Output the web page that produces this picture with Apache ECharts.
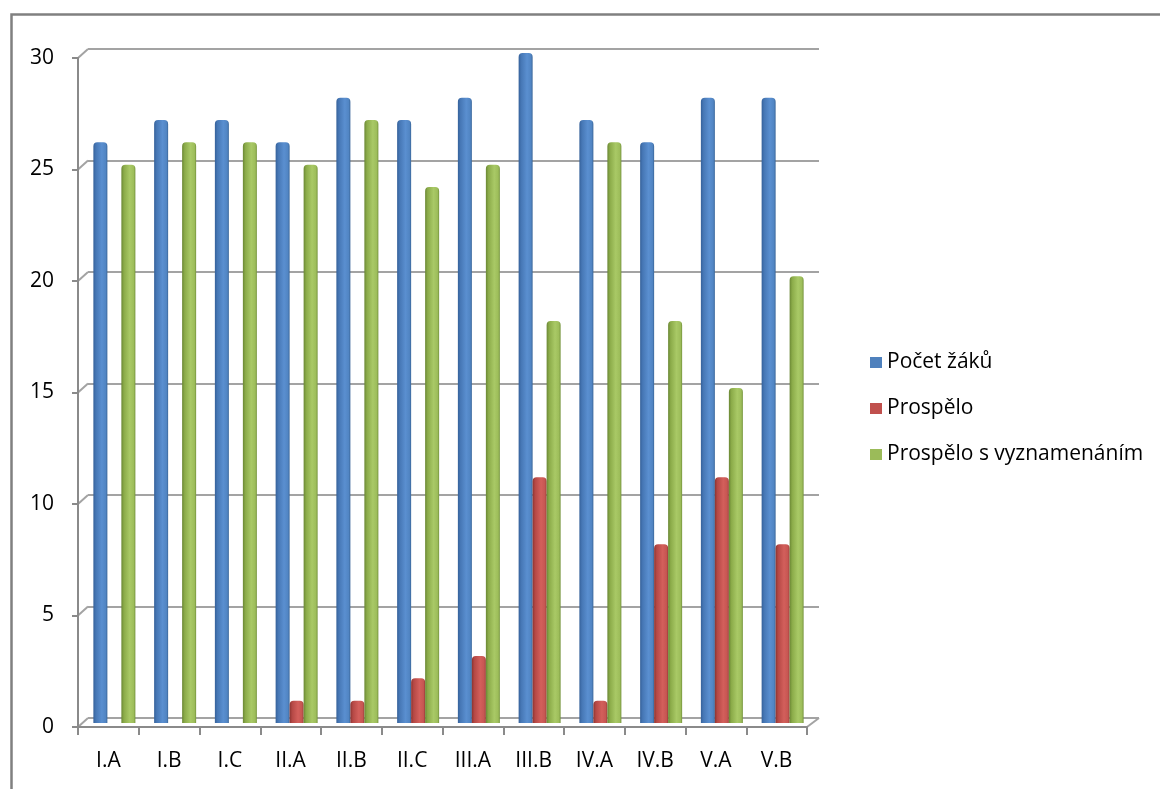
<!DOCTYPE html>
<html><head><meta charset="utf-8">
<script src="https://cdn.jsdelivr.net/npm/echarts@6/dist/echarts.min.js"></script>
<style>html,body{margin:0;padding:0;background:#fff}#c{width:1160px;height:789px}</style>
</head><body><div id="c"></div>
<script>
const categories = ['I.A','I.B','I.C','II.A','II.B','II.C','III.A','III.B','IV.A','IV.B','V.A','V.B'];
const pocetZaku = [26,27,27,26,28,27,28,30,27,26,28,28];
const prospelo = [0,0,0,1,1,2,3,11,1,8,11,8];
const prospeloVyz = [25,26,26,25,27,24,25,18,26,18,15,20];
const yTicks = [0,5,10,15,20,25,30];

const FONT = 'Open Sans';
function cyl(c0,c1,c2,c3,c4){
  return {type:'linear',x:0,y:0,x2:1,y2:0,colorStops:[
    {offset:0,color:c0},{offset:0.18,color:c1},{offset:0.6,color:c2},{offset:0.88,color:c3},{offset:1,color:c4}]};
}
const chart = echarts.init(document.getElementById('c'),null,{renderer:'canvas'});
const gridBack = {left:88,right:341,top:49,bottom:71};
const gridBars = {left:84,right:347,top:53,bottom:66};
const gridFront = {left:78,right:353,top:58,bottom:62};
const option = {
  animation:false,
  backgroundColor:'#fff',
  legend:{
    orient:'vertical', left:865, top:347,
    itemWidth:12, itemHeight:11, itemGap:25,
    icon:'rect',
    textStyle:{fontFamily:FONT,fontSize:21,color:'#000'},
    data:['Počet žáků','Prospělo','Prospělo s vyznamenáním']
  },
  grid:[
    Object.assign({containLabel:false},gridBack),
    Object.assign({containLabel:false},gridBars),
    Object.assign({containLabel:false},gridFront)
  ],
  xAxis:[
    {gridIndex:0,type:'category',data:categories,show:false},
    {gridIndex:1,type:'category',data:categories,show:false},
    {gridIndex:2,type:'category',data:categories,
      axisLine:{lineStyle:{color:'#8a8a8a',width:2}},
      axisTick:{show:true,length:8,lineStyle:{color:'#8a8a8a',width:2}},
      axisLabel:{fontFamily:FONT,fontSize:21,color:'#000',margin:24}}
  ],
  yAxis:[
    {gridIndex:0,type:'value',min:0,max:30,interval:5,
      axisLine:{show:false},axisTick:{show:false},axisLabel:{show:false},
      splitLine:{show:true,lineStyle:{color:'#a3a3a3',width:2}}},
    {gridIndex:1,type:'value',min:0,max:30,interval:5,show:false,splitLine:{show:false}},
    {gridIndex:2,type:'value',min:0,max:30,interval:5,
      axisLine:{show:true,lineStyle:{color:'#8a8a8a',width:2}},
      axisTick:{show:true,length:6,lineStyle:{color:'#8a8a8a',width:2}},
      splitLine:{show:false},
      axisLabel:{fontFamily:FONT,fontSize:21,color:'#000',margin:24,padding:[6,0,0,0],
        formatter:v=>yTicks.includes(v)?String(v):''}}
  ],
  series:[
    {name:'Počet žáků',type:'bar',xAxisIndex:1,yAxisIndex:1,data:pocetZaku,
      barWidth:14,barGap:'0%',barCategoryGap:'32%',
      itemStyle:{color:cyl('#35619a','#4677b5','#5a8fd0','#5185c3','#3a6699'),borderRadius:[4,4,0,0]}},
    {name:'Prospělo',type:'bar',xAxisIndex:1,yAxisIndex:1,data:prospelo,
      barWidth:14,barGap:'0%',
      itemStyle:{color:cyl('#8c3431','#b54845','#d35f5b','#c65652','#9a3b38'),borderRadius:[4,4,0,0]}},
    {name:'Prospělo s vyznamenáním',type:'bar',xAxisIndex:1,yAxisIndex:1,data:prospeloVyz,
      barWidth:14,barGap:'0%',
      itemStyle:{color:cyl('#6a8734','#8bab49','#a9c966','#9dbd5a','#74933c'),borderRadius:[4,4,0,0]}}
  ],
  graphic:[
    {type:'rect',left:9,top:12,shape:{width:1300,height:900},
      style:{fill:null,stroke:'#808080',lineWidth:2.5},silent:true,z:-1}
  ]
};
option.legend.data = option.legend.data.map(n=>({name:n,itemStyle:{color:{'Počet žáků':'#4F81BD','Prospělo':'#C0504D','Prospělo s vyznamenáním':'#9BBB59'}[n]}}));
chart.setOption(option);

// 3D connectors between the front axis and the back wall
const g = [];
yTicks.forEach(v=>{
  const f = chart.convertToPixel({xAxisIndex:2,yAxisIndex:2},[0,v]);
  const b = chart.convertToPixel({xAxisIndex:0,yAxisIndex:0},[0,v]);
  g.push({type:'line',silent:true,shape:{x1:78,y1:f[1],x2:88,y2:b[1]},style:{stroke:'#a3a3a3',lineWidth:2}});
});
const fr = chart.convertToPixel({yAxisIndex:2},0);
const br = chart.convertToPixel({yAxisIndex:0},0);
g.push({type:'line',silent:true,shape:{x1:1160-353,y1:fr,x2:1160-341,y2:br},style:{stroke:'#a3a3a3',lineWidth:2}});
chart.setOption({graphic:option.graphic.concat(g)});
</script>
</body></html>
